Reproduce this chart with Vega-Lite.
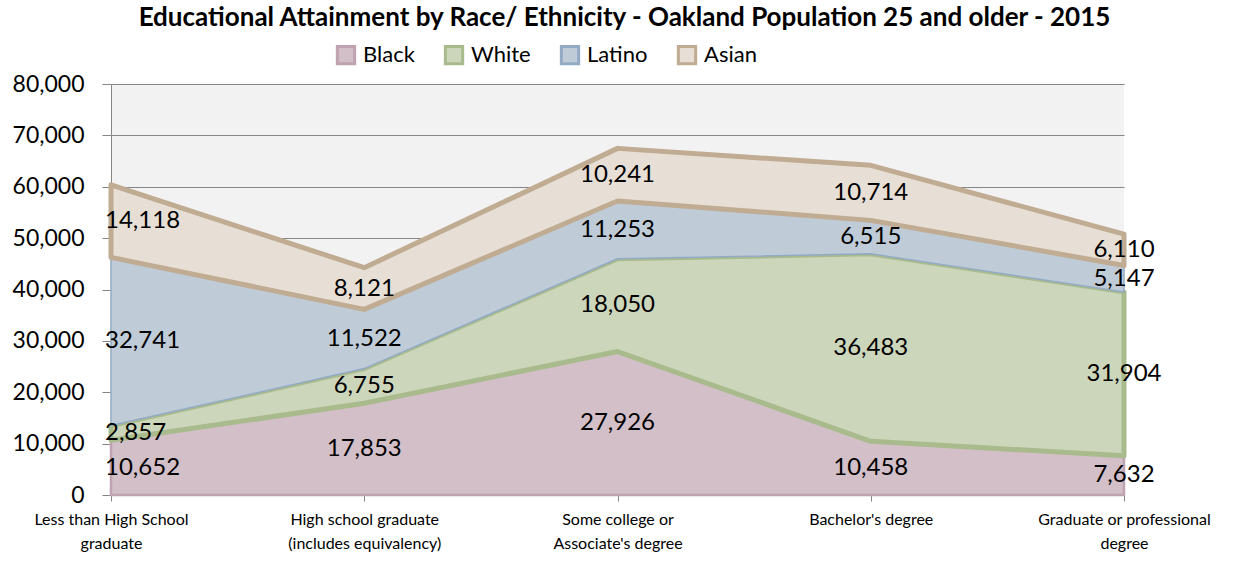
{
  "$schema": "https://vega.github.io/schema/vega-lite/v6.json",
  "autosize": {"type": "none"},
  "width": 1013,
  "height": 411,
  "padding": {"left": 111, "top": 84, "right": 117, "bottom": 66},
  "background": "white",
  "config": {
    "font": "Lato",
    "view": {"fill": "#f2f2f2", "stroke": null}
  },
  "title": {
    "text": "Educational Attainment by Race/ Ethnicity - Oakland Population 25 and older - 2015",
    "font": "Lato",
    "fontSize": 26,
    "fontWeight": "bold",
    "color": "#000000",
    "anchor": "middle",
    "dx": 7,
    "baseline": "alphabetic",
    "offset": -8
  },
  "data": {
    "values": [
      {"cat": "Less than High School graduate", "series": "Black", "value": 10652, "order": 1},
      {"cat": "Less than High School graduate", "series": "White", "value": 2857, "order": 2},
      {"cat": "Less than High School graduate", "series": "Latino", "value": 32741, "order": 3},
      {"cat": "Less than High School graduate", "series": "Asian", "value": 14118, "order": 4},
      {"cat": "High school graduate (includes equivalency)", "series": "Black", "value": 17853, "order": 1},
      {"cat": "High school graduate (includes equivalency)", "series": "White", "value": 6755, "order": 2},
      {"cat": "High school graduate (includes equivalency)", "series": "Latino", "value": 11522, "order": 3},
      {"cat": "High school graduate (includes equivalency)", "series": "Asian", "value": 8121, "order": 4},
      {"cat": "Some college or Associate's degree", "series": "Black", "value": 27926, "order": 1},
      {"cat": "Some college or Associate's degree", "series": "White", "value": 18050, "order": 2},
      {"cat": "Some college or Associate's degree", "series": "Latino", "value": 11253, "order": 3},
      {"cat": "Some college or Associate's degree", "series": "Asian", "value": 10241, "order": 4},
      {"cat": "Bachelor's degree", "series": "Black", "value": 10458, "order": 1},
      {"cat": "Bachelor's degree", "series": "White", "value": 36483, "order": 2},
      {"cat": "Bachelor's degree", "series": "Latino", "value": 6515, "order": 3},
      {"cat": "Bachelor's degree", "series": "Asian", "value": 10714, "order": 4},
      {"cat": "Graduate or professional degree", "series": "Black", "value": 7632, "order": 1},
      {"cat": "Graduate or professional degree", "series": "White", "value": 31904, "order": 2},
      {"cat": "Graduate or professional degree", "series": "Latino", "value": 5147, "order": 3},
      {"cat": "Graduate or professional degree", "series": "Asian", "value": 6110, "order": 4}
    ]
  },
  "transform": [
    {"stack": "value", "groupby": ["cat"], "sort": [{"field": "order"}], "as": ["v0", "v1"]},
    {"calculate": "(datum.v0 + datum.v1) / 2", "as": "mid"}
  ],
  "encoding": {
    "x": {
      "field": "cat",
      "type": "ordinal",
      "sort": ["Less than High School graduate", "High school graduate (includes equivalency)", "Some college or Associate's degree", "Bachelor's degree", "Graduate or professional degree"],
      "scale": {"type": "point", "padding": 0},
      "axis": {
        "title": null,
        "labelAngle": 0,
        "labelFont": "Lato",
        "labelFontSize": 16,
        "labelColor": "#000000",
        "labelLineHeight": 24,
        "labelPadding": 10,
        "labelBaseline": "top",
        "tickSize": 6,
        "tickColor": "#868686",
        "domainColor": "#868686",
        "grid": false,
        "labelExpr": "datum.value == 'Less than High School graduate' ? ['Less than High School', 'graduate'] : datum.value == 'High school graduate (includes equivalency)' ? ['High school graduate', '(includes equivalency)'] : datum.value == \"Some college or Associate's degree\" ? ['Some college or', \"Associate's degree\"] : datum.value == 'Graduate or professional degree' ? ['Graduate or professional', 'degree'] : datum.value"
      }
    }
  },
  "layer": [
    {
      "transform": [{"filter": "datum.series == 'Black'"}],
      "mark": {"type": "area", "strokeWidth": 2.5, "strokeJoin": "round"},
      "encoding": {
        "y": {
          "field": "v1",
          "type": "quantitative",
          "scale": {"domain": [0, 80000], "nice": false},
          "axis": {
            "title": null,
            "values": [0, 10000, 20000, 30000, 40000, 50000, 60000, 70000, 80000],
            "format": ",.0f",
            "labelFont": "Lato",
            "labelFontSize": 23,
            "labelColor": "#000000",
            "labelPadding": 18,
            "tickSize": 9,
            "tickColor": "#868686",
            "domainColor": "#868686",
            "gridColor": "#868686",
            "gridWidth": 1
          }
        },
        "y2": {"field": "v0"},
        "color": {
          "field": "series",
          "type": "nominal",
          "scale": {"domain": ["Black", "White", "Latino", "Asian"], "range": ["#d2bfc7", "#ccd6bb", "#bfccd7", "#e7dfd5"]},
          "legend": {
            "title": null,
            "orient": "none",
            "direction": "horizontal",
            "legendX": 224,
            "legendY": -40,
            "symbolType": "square",
            "symbolSize": 300,
            "symbolStrokeWidth": 3,
            "labelFont": "Lato",
            "labelFontSize": 22,
            "labelColor": "#000000",
            "labelOffset": 6,
            "columnPadding": 24
          }
        },
        "stroke": {
          "field": "series",
          "type": "nominal",
          "scale": {"domain": ["Black", "White", "Latino", "Asian"], "range": ["#bfa3b0", "#a9bb8d", "#93aac4", "#c0ab93"]}
        }
      }
    },
    {
      "transform": [{"filter": "datum.series == 'White'"}],
      "mark": {"type": "area", "strokeWidth": 5, "strokeJoin": "round"},
      "encoding": {
        "y": {"field": "v1", "type": "quantitative"},
        "y2": {"field": "v0"},
        "color": {"field": "series", "type": "nominal"},
        "stroke": {"field": "series", "type": "nominal"}
      }
    },
    {
      "transform": [{"filter": "datum.series == 'Latino'"}],
      "mark": {"type": "area", "strokeWidth": 1.5, "strokeJoin": "round"},
      "encoding": {
        "y": {"field": "v1", "type": "quantitative"},
        "y2": {"field": "v0"},
        "color": {"field": "series", "type": "nominal"},
        "stroke": {"field": "series", "type": "nominal"}
      }
    },
    {
      "transform": [{"filter": "datum.series == 'Asian'"}],
      "mark": {"type": "area", "strokeWidth": 5, "strokeJoin": "round"},
      "encoding": {
        "y": {"field": "v1", "type": "quantitative"},
        "y2": {"field": "v0"},
        "color": {"field": "series", "type": "nominal"},
        "stroke": {"field": "series", "type": "nominal"}
      }
    },
    {
      "transform": [{"filter": "datum.cat != 'Less than High School graduate'"}],
      "mark": {"type": "text", "font": "Lato", "fontSize": 24, "color": "#000000", "align": "center", "baseline": "middle"},
      "encoding": {
        "y": {"field": "mid", "type": "quantitative"},
        "text": {"field": "value", "type": "quantitative", "format": ","}
      }
    },
    {
      "transform": [{"filter": "datum.cat == 'Less than High School graduate'"}],
      "mark": {"type": "text", "font": "Lato", "fontSize": 24, "color": "#000000", "align": "left", "dx": -6, "baseline": "middle"},
      "encoding": {
        "y": {"field": "mid", "type": "quantitative"},
        "text": {"field": "value", "type": "quantitative", "format": ","}
      }
    }
  ]
}
